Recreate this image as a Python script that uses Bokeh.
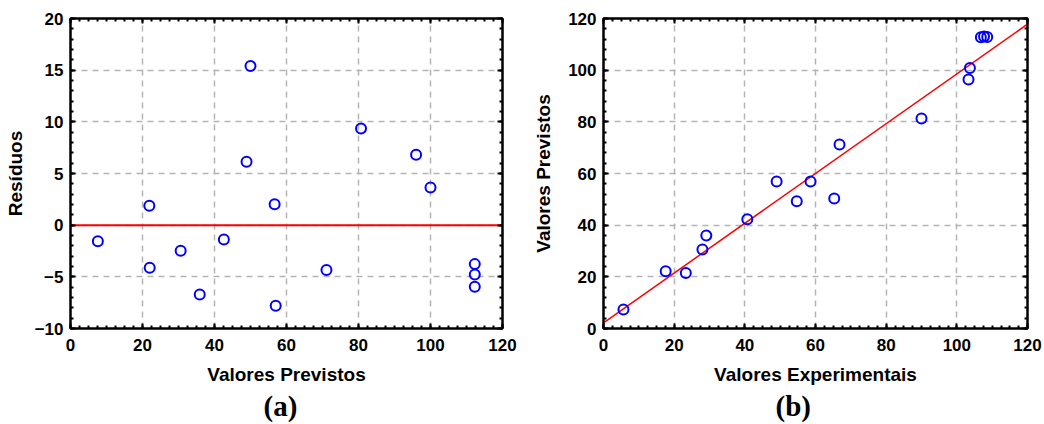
from bokeh.plotting import figure
from bokeh.models import Range1d, LinearAxis, SingleIntervalTicker, Title
from bokeh.layouts import row
from bokeh.embed import file_html
from bokeh.resources import INLINE

# ---- Panel (a): residuals vs predicted ----
a_predicted = [7.6, 21.9, 22.0, 30.6, 35.9, 42.6, 48.9, 50.0, 56.7, 57.0,
               71.1, 80.7, 96.0, 100.0, 112.3, 112.3, 112.3]
a_residuals = [-1.55, 1.87, -4.13, -2.48, -6.7, -1.38, 6.13, 15.4, 2.03, -7.8,
               -4.35, 9.36, 6.81, 3.65, -3.77, -4.77, -5.96]
a_zero_x = [0, 120]
a_zero_y = [0, 0]

# ---- Panel (b): predicted vs experimental ----
b_experimental = [5.65, 17.6, 23.3, 28.0, 29.1, 40.7, 49.0, 54.7, 58.6, 65.3,
                  66.8, 90.0, 103.3, 103.7, 106.8, 107.7, 108.6]
b_predicted = [7.35, 22.2, 21.5, 30.6, 36.0, 42.3, 56.9, 49.3, 56.9, 50.3,
               71.2, 81.3, 96.4, 100.8, 112.7, 113.0, 112.8]
b_fit_x = [0, 120]
b_fit_y = [2.2, 117.8]

x_ticks = [0, 20, 40, 60, 80, 100, 120]
a_y_ticks = [-10, -5, 0, 5, 10, 15, 20]
b_y_ticks = [0, 20, 40, 60, 80, 100, 120]

FONT = "Liberation Sans"
SERIF = "Liberation Serif"


def style_axis(ax):
    ax.axis_line_color = "black"
    ax.axis_line_width = 2
    ax.major_tick_in = 5
    ax.major_tick_out = 0
    ax.minor_tick_in = 3
    ax.minor_tick_out = 0
    ax.major_tick_line_color = "black"
    ax.major_tick_line_width = 2
    ax.minor_tick_line_color = "black"
    ax.minor_tick_line_width = 2
    ax.major_label_text_font = FONT
    ax.major_label_text_font_style = "bold"
    ax.major_label_text_font_size = "17px"
    ax.major_label_text_color = "black"
    ax.axis_label_text_font = FONT
    ax.axis_label_text_font_style = "bold"
    ax.axis_label_text_font_size = "19px"
    ax.axis_label_text_color = "black"


def make_panel(width, bl, br, yr, xint, xminor, yint, yminor, xticks, yticks,
               xlabel, ylabel, ylabel_standoff, tag, tag_offset):
    p = figure(width=width, height=424, output_backend="svg", toolbar_location=None,
               x_range=Range1d(0, 120), y_range=Range1d(*yr),
               min_border_left=bl, min_border_right=br, min_border_top=18,
               min_border_bottom=96)
    p.xaxis.ticker = SingleIntervalTicker(interval=xint, num_minor_ticks=xminor)
    p.yaxis.ticker = SingleIntervalTicker(interval=yint, num_minor_ticks=yminor)
    p.xaxis.axis_label = xlabel
    p.yaxis.axis_label = ylabel
    for ax in p.xaxis + p.yaxis:
        style_axis(ax)
    p.xaxis.major_label_standoff = 10
    p.xaxis.axis_label_standoff = 10
    p.yaxis.major_label_standoff = 7
    p.yaxis.axis_label_standoff = ylabel_standoff

    top = LinearAxis(ticker=SingleIntervalTicker(interval=xint, num_minor_ticks=xminor))
    right = LinearAxis(ticker=SingleIntervalTicker(interval=yint, num_minor_ticks=yminor))
    style_axis(top)
    style_axis(right)
    top.major_label_overrides = {v: "" for v in xticks}
    right.major_label_overrides = {v: "" for v in yticks}
    top.major_label_standoff = 0
    right.major_label_standoff = 0
    p.add_layout(top, "above")
    p.add_layout(right, "right")

    p.outline_line_color = "black"
    p.outline_line_width = 2
    for g in (p.xgrid, p.ygrid):
        g.grid_line_color = "#b4b4b4"
        g.grid_line_dash = "6 5"
        g.grid_line_width = 1.5
    p.background_fill_color = "white"
    p.border_fill_color = "white"

    t = Title(text=tag, align="left", offset=tag_offset, text_font=SERIF,
              text_font_style="bold", text_font_size="29px", text_color="black",
              standoff=0)
    p.add_layout(t, "below")
    return p


p1 = make_panel(520, 70, 18, (-10, 20), 20, 8, 5, 5, x_ticks, a_y_ticks,
                "Valores Previstos", "Resíduos", 6, "(a)", 193)
p1.line(a_zero_x, a_zero_y, line_color="#ff0000", line_width=2)
p1.scatter(a_predicted, a_residuals, marker="circle", size=10, fill_color=None,
           line_color="#0000ff", line_width=2)

p2 = make_panel(524, 83, 17, (0, 120), 20, 8, 20, 5, x_ticks, b_y_ticks,
                "Valores Experimentais", "Valores Previstos", 11, "(b)", 172)
p2.line(b_fit_x, b_fit_y, line_color="#ff0000", line_width=1.5)
p2.scatter(b_experimental, b_predicted, marker="circle", size=10, fill_color=None,
           line_color="#0000ff", line_width=2)

layout = row(p1, p2)
open("out.html", "w").write(file_html(layout, INLINE))
